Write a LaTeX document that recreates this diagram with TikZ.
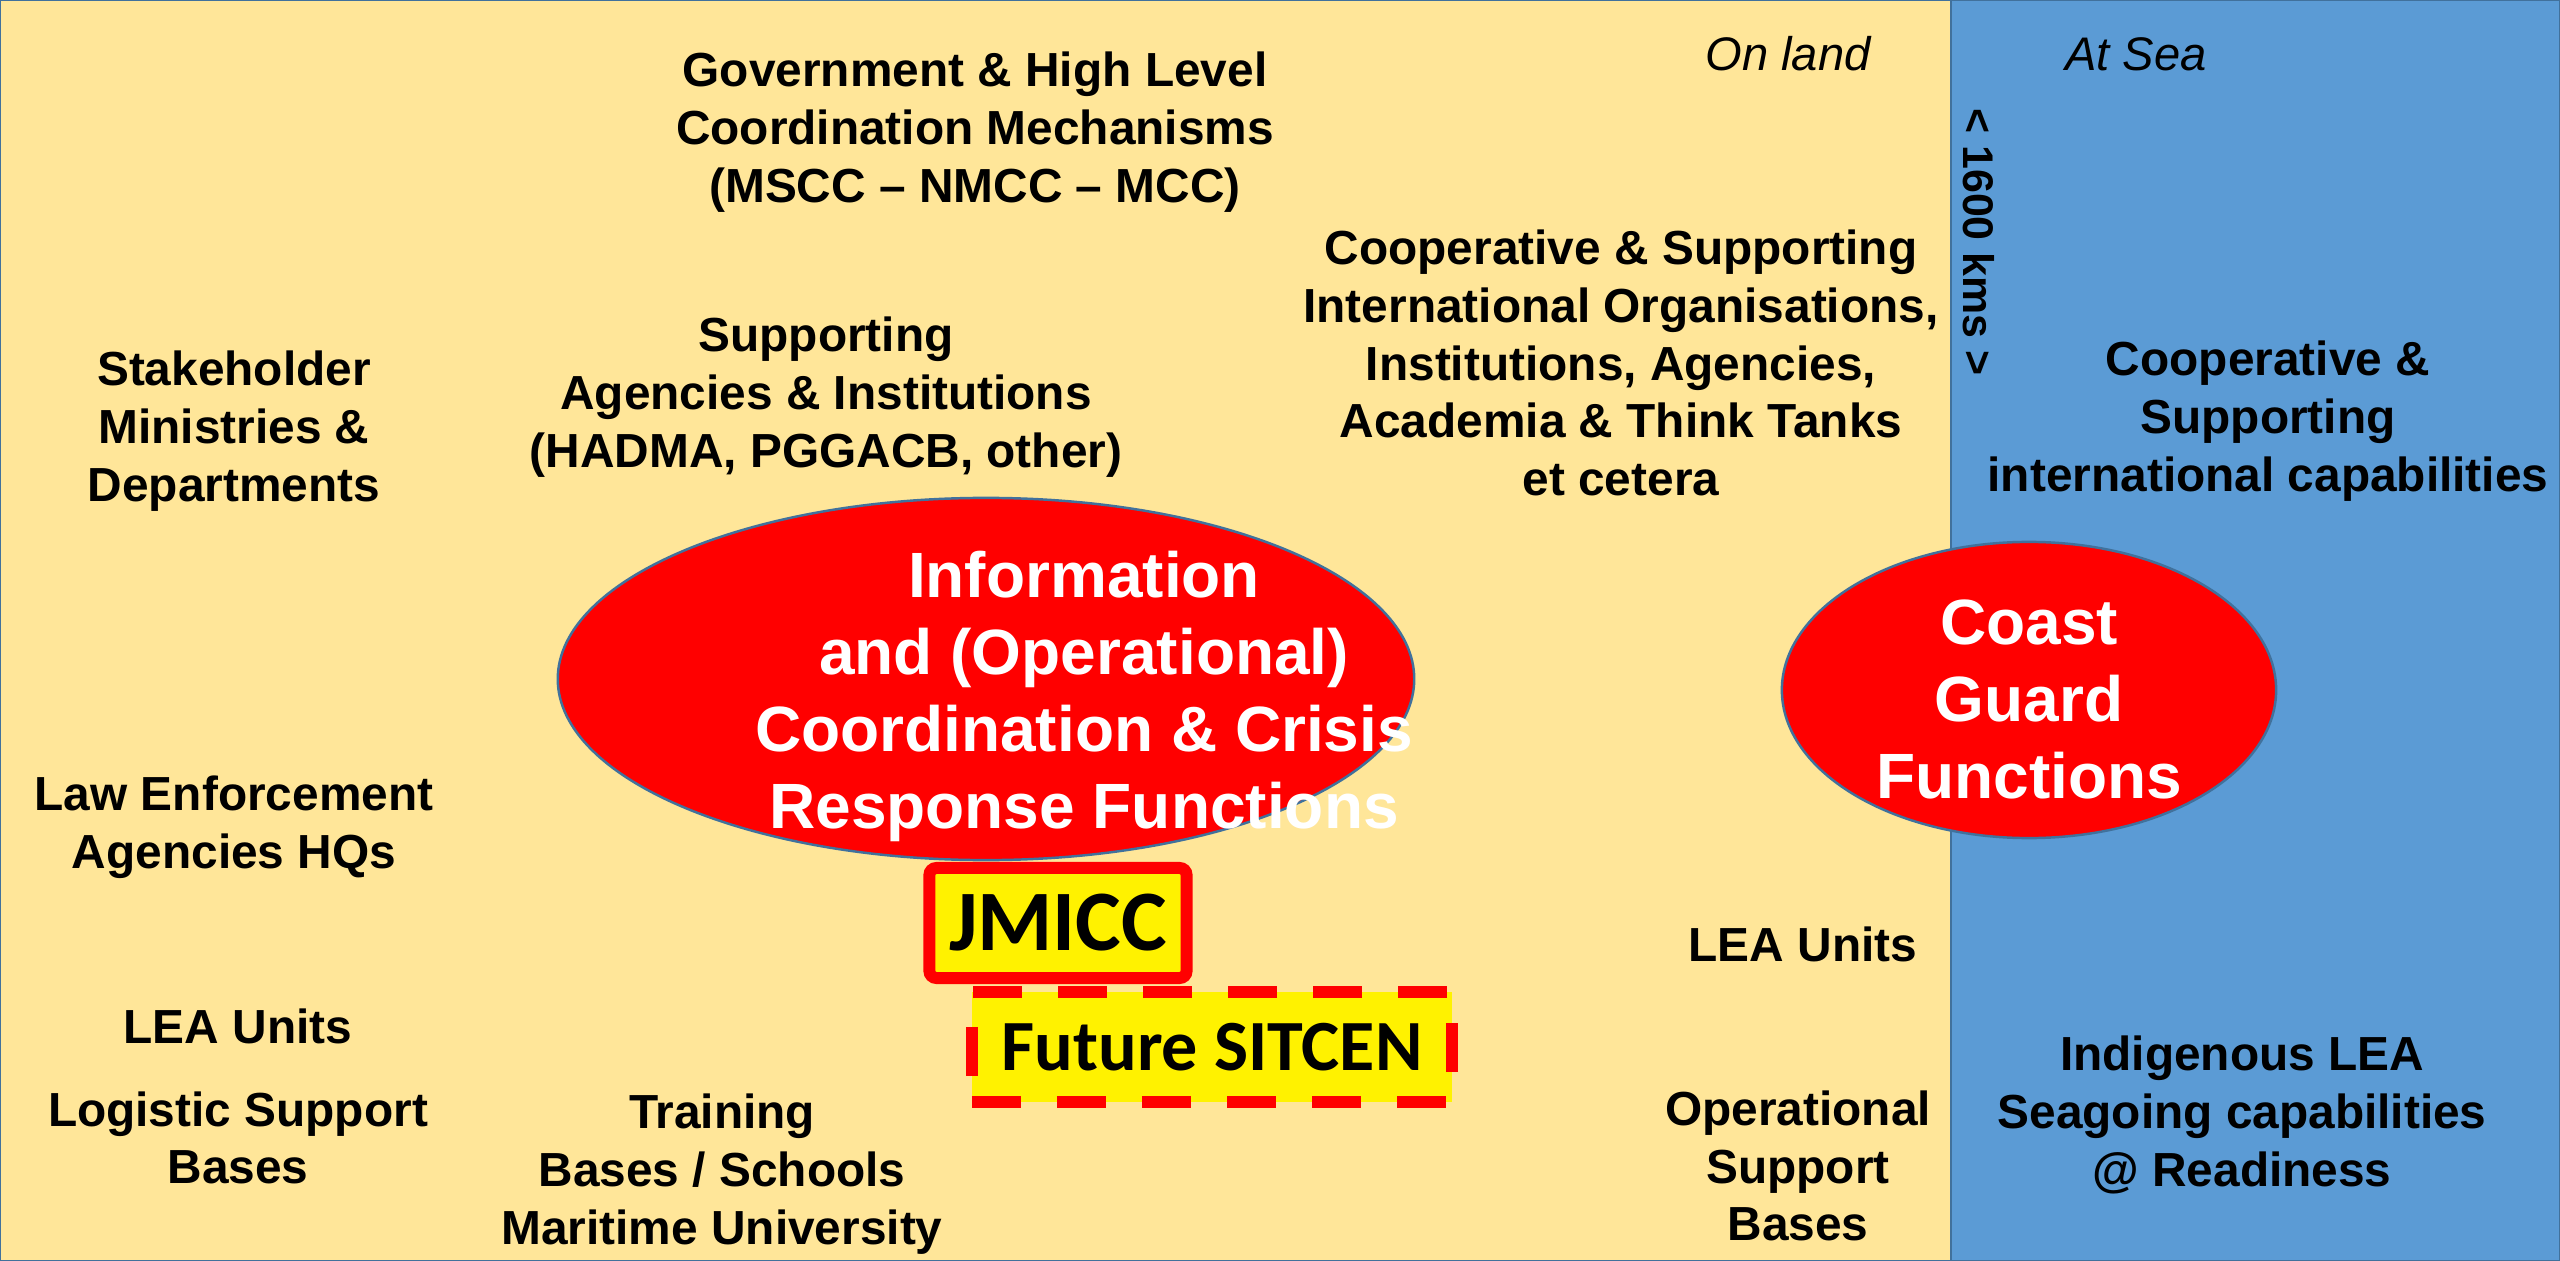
\documentclass[tikz,border=0pt]{standalone}
\usepackage{fontspec}
\setmainfont{Liberation Sans}
\newfontfamily\calfont{Carlito}
\usetikzlibrary{shapes.geometric}
\definecolor{landfill}{HTML}{FFE699}
\definecolor{seafill}{HTML}{5B9BD5}
\definecolor{edgeblue}{HTML}{41719C}
\tikzset{
    lbl/.style={align=center, inner sep=0pt, font=\bfseries\fontsize{13.6}{16.4}\selectfont},
    side/.style={inner sep=0pt, font=\itshape\fontsize{13.4}{16}\selectfont},
    redoval/.style={ellipse, draw=edgeblue, line width=0.7pt, fill=red, inner sep=0pt},
    whitetxt/.style={align=center, inner sep=0pt, text=white, font=\bfseries\fontsize{18.2}{21.9}\selectfont},
    centrebox/.style={draw=red, fill=yellow, line width=3.4pt, inner sep=0pt}
}
\begin{document}
\begin{tikzpicture}[x=0.01cm, y=-0.01cm]
    \useasboundingbox (0,0) rectangle (2560,1261);
    \draw[edgeblue, line width=0.8pt, fill=landfill] (0,0) rectangle (1951,1261);
    \draw[edgeblue, line width=0.8pt, fill=seafill] (1951,0) rectangle (2560,1261);

    \node[side] (onland) at (1788,54) {On land};
    \node[side] (atsea) at (2136,54) {At Sea};
    \node[lbl, rotate=-90, font=\bfseries\fontsize{12.2}{14}\selectfont] (kms) at (1979,242) {< 1600 kms >};

    \node[lbl] (gov) at (975,132) {Government \& High Level\\Coordination Mechanisms\\(MSCC – NMCC – MCC)};
    \node[lbl] (coop) at (1621,363) {Cooperative \& Supporting\\International Organisations,\\Institutions, Agencies,\\Academia \& Think Tanks\\et cetera};
    \node[lbl] (supp) at (826,397) {Supporting\\Agencies \& Institutions\\(HADMA, PGGACB, other)};
    \node[lbl] (stake) at (234,431) {Stakeholder\\Ministries \&\\Departments};
    \node[lbl] (coopsea) at (2268,421) {Cooperative \&\\Supporting\\international capabilities};
    \node[lbl] (law) at (234,827) {Law Enforcement\\Agencies HQs};
    \node[lbl] (lealand) at (238,1026) {LEA Units};
    \node[lbl] (logi) at (238,1138) {Logistic Support\\Bases};
    \node[lbl] (train) at (722,1174) {Training\\Bases / Schools\\Maritime University};
    \node[lbl] (leacoast) at (1803,944) {LEA Units};
    \node[lbl] (opsup) at (1798,1166) {Operational\\Support\\Bases};
    \node[lbl] (indig) at (2242,1115) {Indigenous LEA\\Seagoing capabilities\\@ Readiness};

    % red functions
    \node[redoval, minimum width=8.56cm, minimum height=3.62cm] (info) at (986,679) {};
    \node[whitetxt] (infotxt) at (1084,696) {Information\\and (Operational)\\Coordination \& Crisis\\Response Functions};
    \node[redoval, minimum width=4.94cm, minimum height=2.96cm] (cg) at (2029,690) {};
    \node[whitetxt] (cgtxt) at ([yshift=-0.09cm]cg.center) {Coast\\Guard\\Functions};

    % centres
    \node[centrebox, rounded corners=2pt, minimum width=2.57cm, minimum height=1.10cm,
        font=\calfont\bfseries\fontsize{24.5}{28}\selectfont] (jmicc) at (1058,923) {JMICC};
    \node[centrebox, dash pattern=on 0.49cm off 0.36cm, minimum width=4.80cm, minimum height=1.10cm,
        font=\calfont\bfseries\fontsize{20.5}{24}\selectfont] (sitcen) at (1212,1047) {Future SITCEN};
\end{tikzpicture}
\end{document}
